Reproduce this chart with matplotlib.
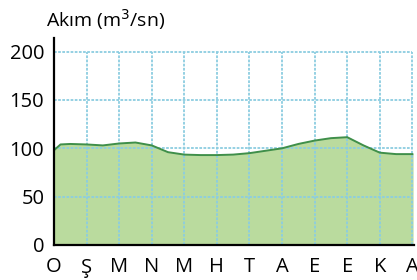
import matplotlib.pyplot as plt

plt.rcParams["font.family"] = ["Open Sans", "DejaVu Sans"]

# months (Turkish initials, Oct -> Sep)
months = ["O", "Ş", "M", "N", "M", "H", "T", "A", "E", "E", "K", "A"]
yticks = [0, 50, 100, 150, 200]

# flow readings (m3/s), read at half-month steps
pos = [0, 0.2, 0.5, 1, 1.5, 2, 2.5, 3, 3.5, 4, 4.5, 5, 5.5,
       6, 6.5, 7, 7.5, 8, 8.5, 9, 9.5, 10, 10.5, 11]
flow = [98, 104, 104.5, 104, 103, 105, 106, 103, 96, 93.5, 93, 93, 93.5,
        95, 97.5, 100, 104.5, 108, 110.5, 111.5, 103, 95.5, 94, 94]

fig = plt.figure(figsize=(4.17, 2.8), dpi=100)
ax = fig.add_axes([0.1295, 0.125, 0.8633, 0.739])

ax.fill_between(pos, flow, 0, color="#badb9e", zorder=1)
ax.plot(pos, flow, color="#3f8f4a", lw=1.4, zorder=3)

grid_kw = dict(colors="#8ccde0", linestyles=(0, (1.5, 0.8)), lw=1.3, zorder=2)
ax.hlines(yticks[1:], 0, len(months) - 1, **grid_kw)
ax.vlines(range(1, len(months)), 0, yticks[-1], **grid_kw)

ax.set_xlim(0, len(months) - 1 + 0.05)
ax.set_ylim(0, 214)
ax.set_xticks(range(len(months)))
ax.set_xticklabels(months)
ax.set_yticks(yticks)
ax.tick_params(length=0, labelsize=14.5)
ax.tick_params(axis="x", pad=9)
ax.tick_params(axis="y", pad=7)

for s in ["top", "right"]:
    ax.spines[s].set_visible(False)
for s in ["left", "bottom"]:
    ax.spines[s].set_linewidth(1.6)
    ax.spines[s].set_color("black")
    ax.spines[s].set_zorder(4)

fig.text(46 / 417, 1 - 27 / 280, "Akım (m$^3$/sn)", fontsize=14,
         ha="left", va="baseline")

fig.savefig("out.png", dpi=100)
